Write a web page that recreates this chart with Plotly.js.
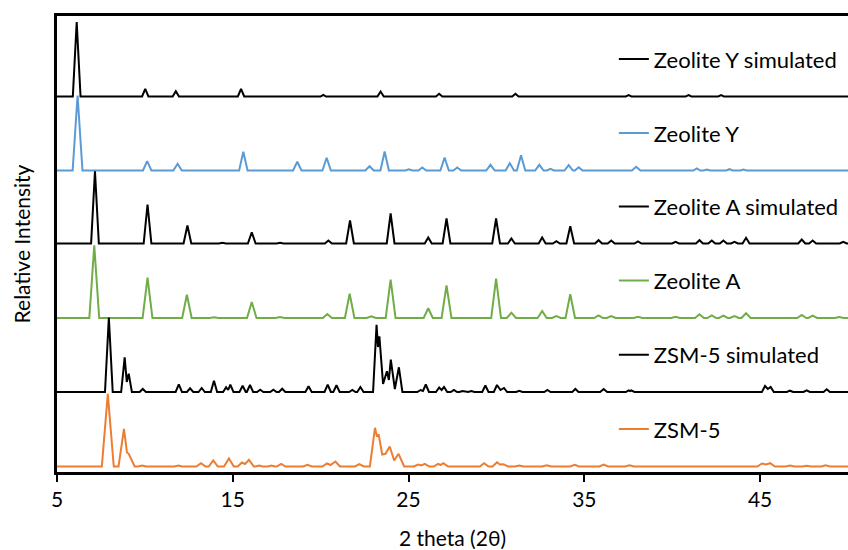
<!DOCTYPE html>
<html><head><meta charset="utf-8">
<script src="https://cdn.plot.ly/plotly-3.0.1.min.js"></script>
<style>html,body{margin:0;padding:0;background:#fff}#chart{width:848px;height:550px}</style>
</head><body><div id="chart"></div>
<script>
// Series names (top to bottom in the stack)
const seriesNames = ["Zeolite Y simulated", "Zeolite Y", "Zeolite A simulated", "Zeolite A", "ZSM-5 simulated", "ZSM-5"];
// Vertical stacking offsets (relative intensity units)
const offsets = [375.5, 301.5, 228.5, 154, 80, 5.5];
const colors = ["#000000", "#5B9BD5", "#000000", "#70AD47", "#000000", "#ED7D31"];

// Zeolite Y simulated: 2-theta and relative intensity
const zeoYSimX = [5, 5.9,6.12,6.34, 9.84,10.02,10.2, 11.58,11.76,11.94, 15.29,15.47,15.65, 19.99,20.15,20.31, 23.23,23.41,23.59, 26.56,26.74,26.92, 30.9,31.08,31.26, 33.57,33.73,33.89, 37.36,37.52,37.68, 40.77,40.93,41.09, 42.62,42.78,42.94, 50];
const zeoYSimY = [0, 0,74.5,0, 0,7.7,0, 0,5.3,0, 0,7.7,0, 0,1.7,0, 0,5,0, 0,2.7,0, 0,2.7,0, 0,0.7,0, 0,1.3,0, 0,1.3,0, 0,1.3,0, 0];

// Zeolite Y (measured)
const zeoYX = [5, 5.89,6.17,6.45, 9.89,10.13,10.37, 11.62,11.86,12.1, 15.36,15.6,15.84, 18.43,18.67,18.91, 20.1,20.34,20.58, 22.54,22.78,23.02, 23.4,23.64,23.88, 24.82,25.02,25.22, 25.56,25.78,26.0, 26.81,27.05,27.29, 27.55,27.77,27.99, 29.42,29.66,29.9, 30.52,30.76,31.0, 31.16,31.4,31.64, 32.2,32.44,32.68, 32.87,33.07,33.27, 33.87,34.11,34.35, 34.46,34.68,34.9, 37.71,37.95,38.19, 41.2,41.4,41.6, 41.79,41.97,42.15, 43.08,43.26,43.44, 43.87,44.05,44.23, 46.52,46.7,46.88, 47.66,47.84,48.02, 50];
const zeoYY = [0, 0,75,0, 0,9.3,0, 0,6.7,0, 0,18.7,0, 0,8.7,0, 0,12.7,0, 0,4.3,0, 0,19,0, 0,1.3,0, 0,3,0, 0,13,0, 0,3,0, 0,5.7,0, 0,7.3,0, 0,15.3,0, 0,5.7,0, 0,1.7,0, 0,5.3,0, 0,3.3,0, 0,3.7,0, 0,2,0, 0,1,0, 0,1.3,0, 0,1,0, 0,0.7,0, 0,0.7,0, 0];

// Zeolite A simulated
const zeoASimX = [5, 6.94,7.16,7.38, 9.93,10.15,10.37, 12.2,12.42,12.64, 14.21,14.41,14.61, 15.86,16.08,16.3, 17.49,17.69,17.89, 20.24,20.44,20.64, 21.45,21.67,21.89, 22.68,22.88,23.08, 23.76,23.98,24.2, 25.92,26.12,26.32, 26.94,27.16,27.38, 29.76,29.98,30.2, 30.65,30.85,31.05, 32.4,32.6,32.8, 33.21,33.41,33.61, 33.98,34.2,34.42, 35.61,35.81,36.01, 36.33,36.53,36.73, 37.85,38.05,38.25, 39.99,40.19,40.39, 41.35,41.55,41.75, 42.05,42.25,42.45, 42.71,42.91,43.11, 43.34,43.54,43.74, 44.0,44.2,44.4, 47.17,47.37,47.57, 47.79,47.99,48.19, 49.53,49.73,49.93, 50];
const zeoASimY = [0, 0,72.3,0, 0,39,0, 0,18,0, 0,0.7,0, 0,11.3,0, 0,0.7,0, 0,3,0, 0,23,0, 0,0.7,0, 0,30,0, 0,6,0, 0,25,0, 0,25,0, 0,5,0, 0,6,0, 0,2.3,0, 0,17.3,0, 0,3.3,0, 0,3,0, 0,2,0, 0,1.7,0, 0,3.3,0, 0,3,0, 0,3,0, 0,1.7,0, 0,5.7,0, 0,4,0, 0,3,0, 0,1.7,0, 0];

// Zeolite A (measured)
const zeoAX = [5, 6.84,7.12,7.4, 9.87,10.15,10.43, 12.12,12.39,12.66, 13.69,13.94,14.19, 15.81,16.08,16.35, 17.44,17.69,17.94, 20.12,20.38,20.64, 21.38,21.65,21.92, 22.62,22.88,23.14, 23.7,23.98,24.26, 25.86,26.12,26.38, 26.88,27.16,27.44, 28.84,29.09,29.34, 29.7,29.98,30.26, 30.59,30.85,31.11, 32.34,32.6,32.86, 33.16,33.41,33.66, 33.93,34.2,34.47, 35.56,35.81,36.06, 36.28,36.53,36.78, 37.8,38.05,38.3, 39.94,40.19,40.44, 41.3,41.55,41.8, 42.0,42.25,42.5, 42.66,42.91,43.16, 43.29,43.54,43.79, 43.94,44.2,44.46, 47.11,47.37,47.63, 47.74,47.99,48.24, 49.25,49.5,49.75, 50];
const zeoAY = [0, 0,72.7,0, 0,40.3,0, 0,23.3,0, 0,0.7,0, 0,16,0, 0,1,0, 0,4,0, 0,24.3,0, 0,1.7,0, 0,38.3,0, 0,9.7,0, 0,32.7,0, 0,0.7,0, 0,39.3,0, 0,5.3,0, 0,7,0, 0,2,0, 0,23.7,0, 0,2.7,0, 0,2,0, 0,1.3,0, 0,1.3,0, 0,3.7,0, 0,2.7,0, 0,2.3,0, 0,2,0, 0,4.7,0, 0,3,0, 0,2.3,0, 0,1,0, 0];

// ZSM-5 simulated
const zsmSimX = [5, 7.73,7.95,8.17, 8.65,8.85,8.97,9.08,9.26, 9.7,9.88,10.06, 11.75,11.93,12.11, 12.39,12.57,12.75, 13.05,13.23,13.41, 13.75,13.93,14.11, 14.45,14.62,14.74,14.86,15.04, 15.38,15.56,15.74, 15.8,15.98,16.16, 16.38,16.56,16.74, 17.13,17.31,17.49, 17.63,17.81,17.99, 19.13,19.31,19.49, 20.22,20.4,20.58, 20.72,20.9,21.08, 21.62,21.8,21.98, 22.08,22.26,22.44, 22.98,23.18,23.26,23.34,23.55,23.77,23.88,23.99,24.22,24.45,24.65, 25.5,25.68,25.82,25.98,26.16, 26.56,26.74,26.88,27.02,27.2, 27.4,27.58,27.76, 27.89,28.07,28.25, 28.39,28.57,28.75, 29.19,29.37,29.55, 29.85,30.03,30.23,30.43,30.61, 31.12,31.3,31.48, 32.72,32.9,33.08, 34.31,34.49,34.67, 35.9,36.1,36.3, 37.36,37.52,37.6,37.67,37.85, 38.82,39,39.18, 45.1,45.28,45.44,45.6,45.78, 46.52,46.7,46.88, 47.47,47.65,47.83, 48.61,48.79,48.97, 50];
const zsmSimY = [0, 0,74.5,0, 0,34.7,10,18.3,0, 0,3,0, 0,7.7,0, 0,3.7,0, 0,4,0, 0,11.3,0, 0,4.7,2,7.3,0, 0,6.3,0, 0,7,0, 0,2.3,0, 0,2.3,0, 0,3.3,0, 0,5.7,0, 0,7.3,0, 0,6.7,0, 0,2,0, 0,5,0, 0,67.3,45,55.7,8,20.7,12,32.3,3,24.7,0, 0,2,1,7.5,0, 0,4.5,2,5,0, 0,2,0, 0,1,0, 0,1,0, 0,6.5,0, 0,7,2,4,0, 0,1.2,0, 0,2,0, 0,3,0, 0,3,0, 0,1.7,1,1.7,0, 0,0.7,0, 0,6,3,5,0, 0,1.3,0, 0,1.7,0, 0,2.7,0, 0];

// ZSM-5 (measured)
const zsmX = [5, 7.55,7.89,8.23, 8.5,8.81,8.98,9.08,9.42, 9.62,9.84,10.06, 11.68,11.9,12.12, 12.93,13.19,13.45, 13.63,13.89,14.15, 14.5,14.78,15.06, 15.28,15.52,15.7,15.92,16.2, 16.3,16.5,16.7, 17.0,17.2,17.4, 17.5,17.75,18.0, 19.0,19.25,19.5, 20.1,20.36,20.56,20.84,21.1, 21.95,22.2,22.45, 22.8,23.09,23.2,23.3,23.5,23.69,23.93,24.18,24.43,24.75, 25.3,25.54,25.72,25.93,26.18, 26.43,26.68,26.82,26.98,27.25, 29.05,29.3,29.55, 29.78,30.03,30.2,30.4,30.65, 31.05,31.3,31.55, 32.6,32.86,33.12, 34.2,34.45,34.7, 35.85,36.1,36.35, 37.32,37.57,37.82, 44.85,45.1,45.33,45.57,45.85, 46.45,46.7,46.95, 47.4,47.65,47.9, 48.48,48.73,48.98, 50];
const zsmY = [0, 0,72.7,0, 0,37.7,14,12.7,0, 0,1,0, 0,1,0, 0,3.3,0, 0,6,0, 0,8,0, 0,4,2.5,6.7,0, 0,1,0, 0,1,0, 0,2.7,0, 0,1.7,0, 0,3,1.5,5,0, 0,2.3,0, 0,38.7,30,32,12,12.7,20,6,12.7,0, 0,2,1,2.7,0, 0,2.7,1.5,3.3,0, 0,3.3,0, 0,4.3,2,2.3,0, 0,1,0, 0,1.3,0, 0,1.7,0, 0,2,0, 0,1.3,0, 0,3,2,3.3,0, 0,1,0, 0,0.7,0, 0,1.3,0, 0];

// x-axis tick values
const xTickVals = [5, 15, 25, 35, 45];
const xTickText = ["5", "15", "25", "35", "45"];

const seriesX = [zeoYSimX, zeoYX, zeoASimX, zeoAX, zsmSimX, zsmX];
const seriesY = [zeoYSimY, zeoYY, zeoASimY, zeoAY, zsmSimY, zsmY];

const FONT = "Lato, 'Open Sans', sans-serif";
const legendY = [0.905, 0.743, 0.582, 0.4195, 0.2566, 0.0936];

const traces = seriesNames.map((name, i) => ({
  type: "scatter",
  mode: "lines",
  name: name,
  x: seriesX[i],
  y: seriesY[i].map(v => v + offsets[i]),
  line: {color: colors[i], width: 2},
  legend: i === 0 ? "legend" : "legend" + (i + 1),
  hoverinfo: "x+y+name"
}));

const layout = {
  width: 848, height: 550,
  margin: {l: 57, r: 0, t: 16, b: 78},
  paper_bgcolor: "#ffffff",
  plot_bgcolor: "#ffffff",
  font: {family: FONT, size: 21, color: "#000000"},
  xaxis: {
    range: [5, 50],
    tickvals: xTickVals, ticktext: xTickText,
    ticks: "outside", ticklen: 7, tickwidth: 2, tickcolor: "#000",
    showline: true, linewidth: 3, linecolor: "#000", mirror: true,
    showgrid: false, zeroline: false,
    tickfont: {family: FONT, size: 21, color: "#000"},
    title: {text: "2 theta (2θ)", font: {family: FONT, size: 21, color: "#000"}, standoff: 22},
    automargin: true
  },
  yaxis: {
    range: [0, 456],
    showticklabels: false, ticks: "",
    showline: true, linewidth: 3, linecolor: "#000",
    showgrid: false, zeroline: false,
    title: {text: "Relative Intensity", font: {family: FONT, size: 21, color: "#000"}, standoff: 18},
    automargin: true
  },
  showlegend: true
};
legendY.forEach((yy, i) => {
  const key = i === 0 ? "legend" : "legend" + (i + 1);
  layout[key] = {
    x: 0.704, xanchor: "left", y: yy, yanchor: "middle",
    bgcolor: "rgba(0,0,0,0)", borderwidth: 0,
    font: {family: FONT, size: 22, color: "#000"}
  };
});

Plotly.newPlot("chart", traces, layout, {displayModeBar: false, responsive: false});
</script>
</body></html>
